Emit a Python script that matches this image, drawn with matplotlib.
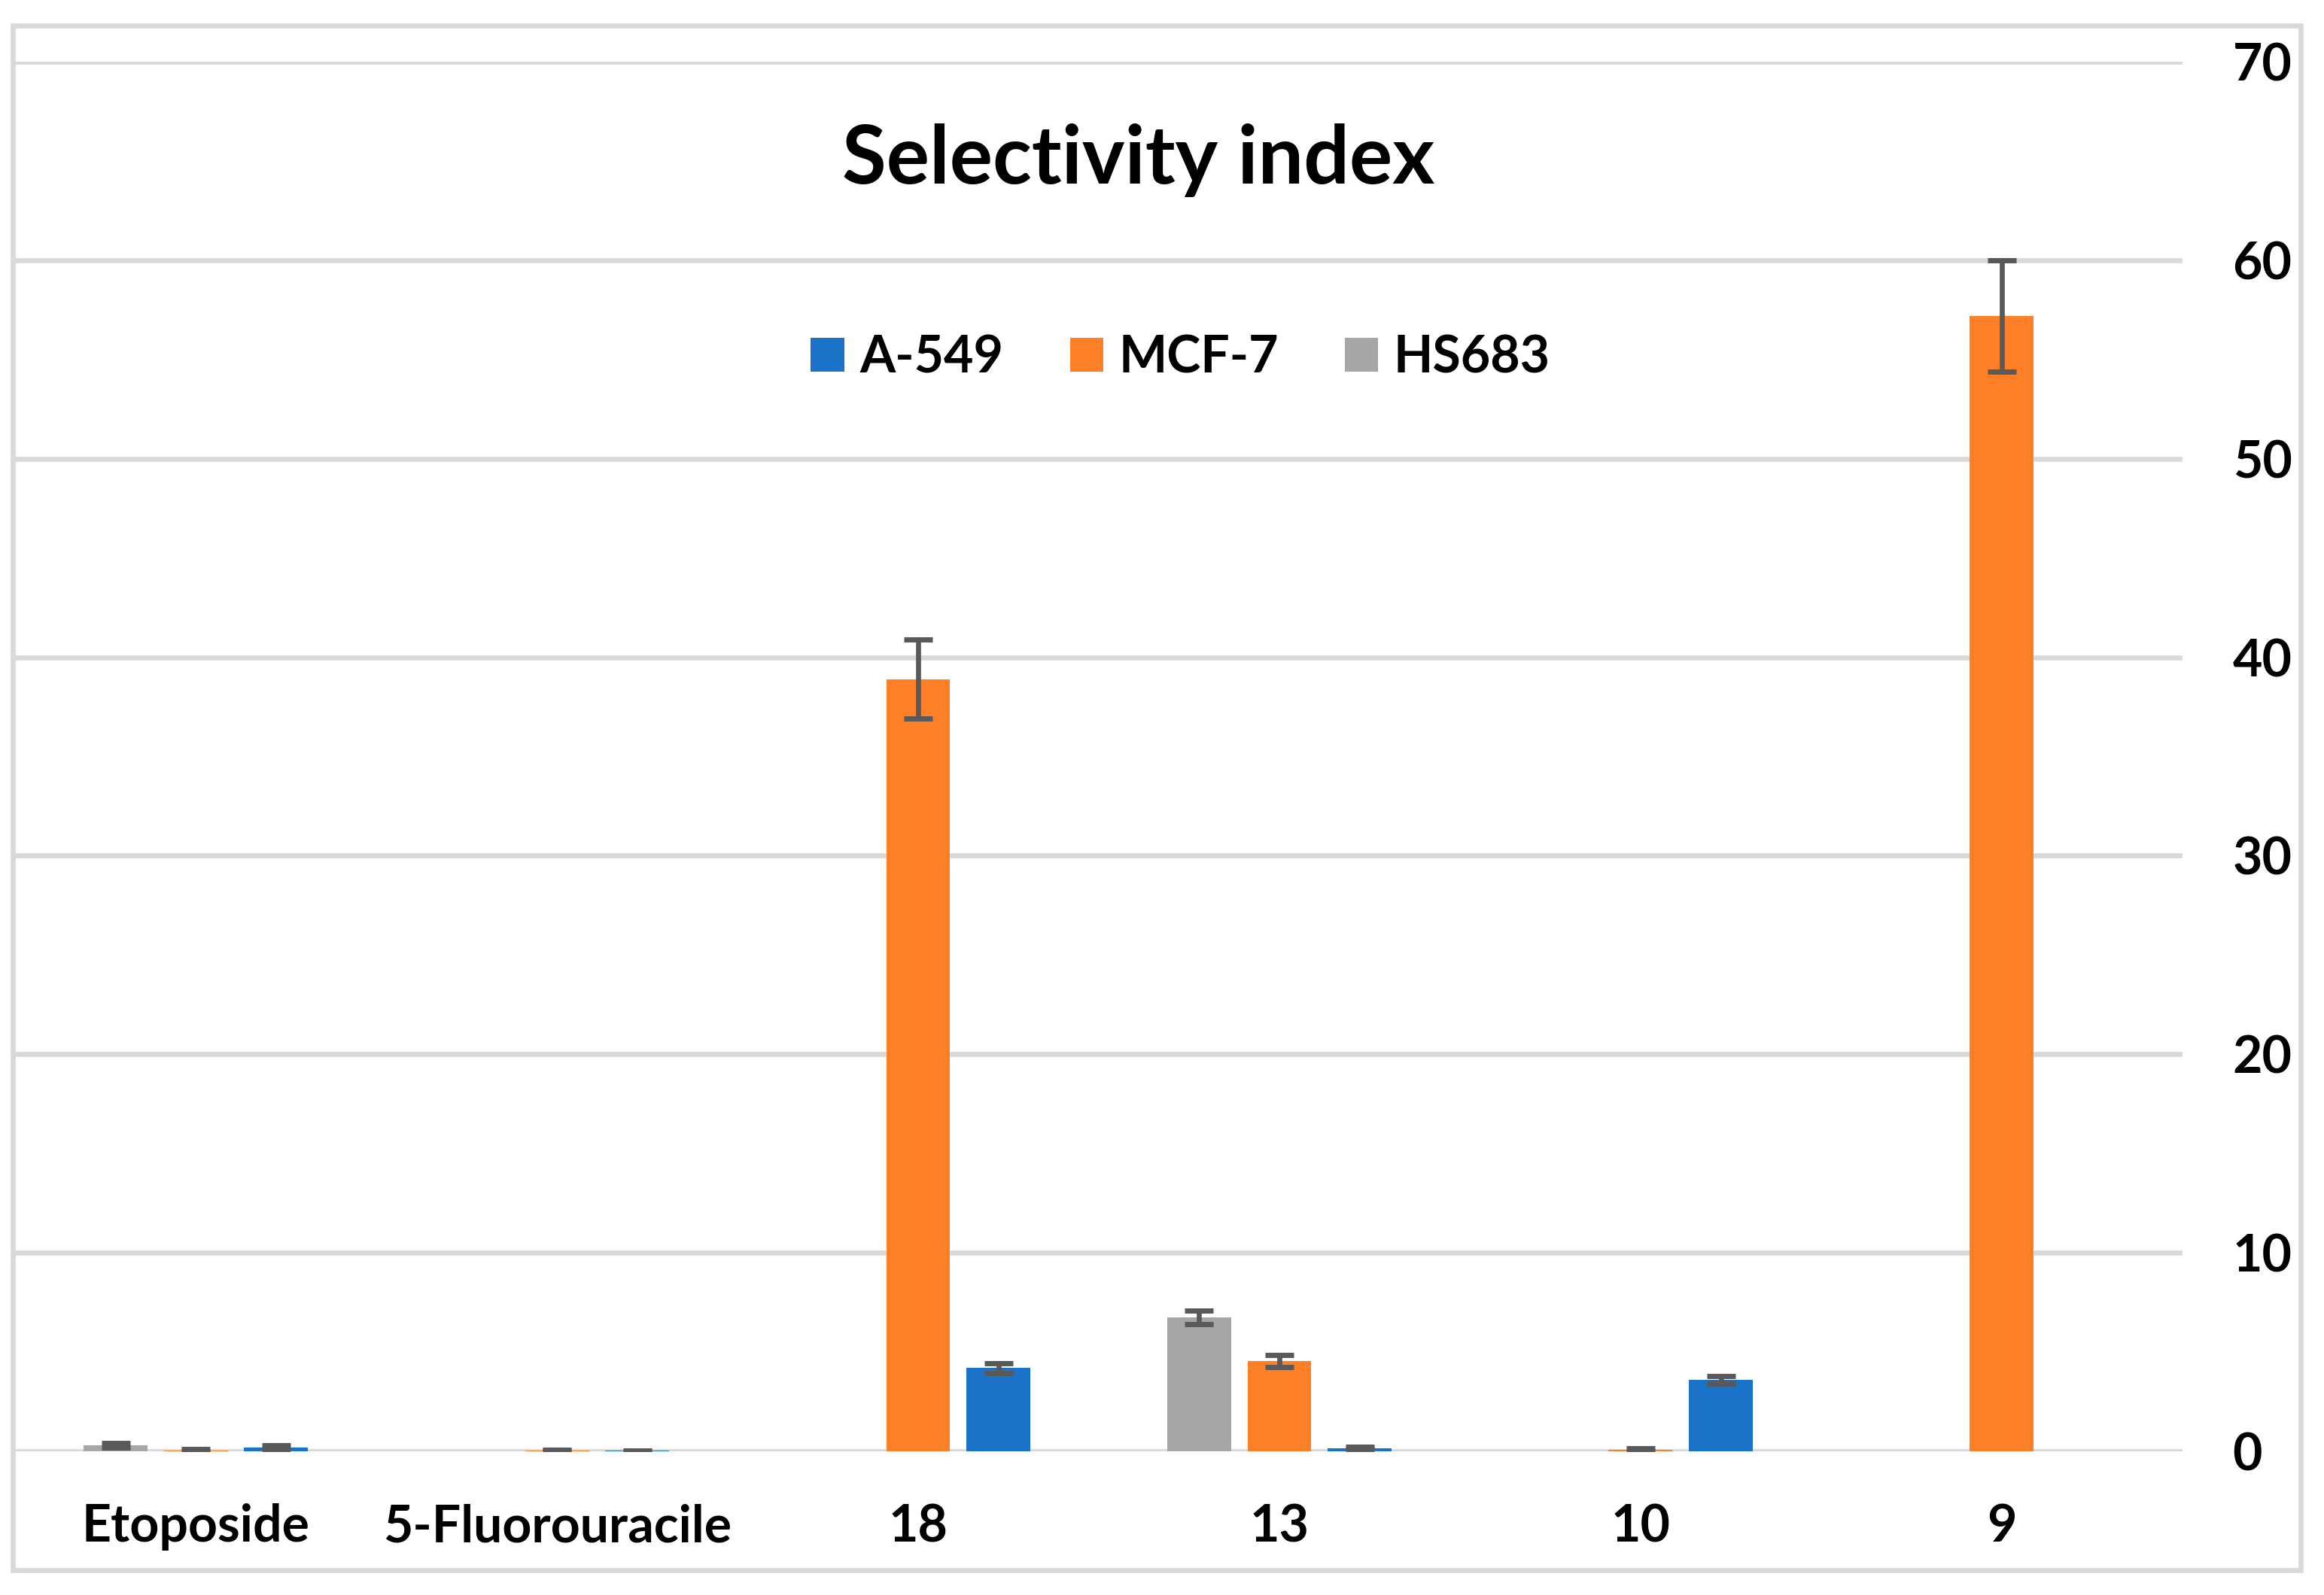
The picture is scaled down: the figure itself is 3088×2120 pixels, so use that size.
import numpy as np
import matplotlib
matplotlib.use("Agg")
import matplotlib.pyplot as plt
from matplotlib.patches import Rectangle

categories = ["Etoposide", "5-Fluorouracile", "18", "13", "10", "9"]

a549 = [0.2, 0.02, 4.2, 0.17, 3.6, 0]
a549_err = [0.1, 0.02, 0.25, 0.06, 0.2, 0]
mcf7 = [0.05, 0.05, 38.9, 4.55, 0.08, 57.2]
mcf7_err = [0.05, 0.03, 2.0, 0.3, 0.08, 2.8]
hs683 = [0.3, 0, 0, 6.75, 0, 0]
hs683_err = [0.1, 0, 0, 0.35, 0, 0]

yticks = [0, 10, 20, 30, 40, 50, 60, 70]

plt.rcParams['font.family'] = ['Lato', 'DejaVu Sans']
plt.rcParams['font.weight'] = 'bold'

grid_col = "#D9D9D9"
err_col = "#595959"
c_blue = "#1A73C8"
c_orange = "#FF7F27"
c_gray = "#A6A6A6"

fig = plt.figure(figsize=(15.44, 10.6), dpi=200)
ax = fig.add_axes([0.0065, 0.0901, 0.9326, 0.8712])

x = np.arange(len(categories))
w = 0.177
off = 0.222

def errs(e):
    return [v if v > 0 else np.nan for v in e]

ekw = dict(ecolor=err_col, elinewidth=2.4, capsize=6.9, capthick=2.5)
ax.bar(x - off, hs683, w, color=c_gray, label="HS683", yerr=errs(hs683_err), error_kw=ekw, zorder=3)
ax.bar(x, mcf7, w, color=c_orange, label="MCF-7", yerr=errs(mcf7_err), error_kw=ekw, zorder=3)
ax.bar(x + off, a549, w, color=c_blue, label="A-549", yerr=errs(a549_err), error_kw=ekw, zorder=3)

ax.set_xlim(-0.5, 5.5)
ax.set_ylim(0, 70)
ax.set_yticks(yticks)
ax.yaxis.tick_right()
ax.yaxis.grid(True, color=grid_col, linewidth=2.4, zorder=0)
ax.set_axisbelow(True)
for s in ax.spines.values():
    s.set_visible(False)
ax.tick_params(axis='y', length=0, pad=24, labelsize=24.5)
ax.tick_params(axis='x', length=0, pad=25, labelsize=24.5)
ax.set_xticks(x)
ax.set_xticklabels(categories, fontweight='bold')
for t in ax.get_yticklabels():
    t.set_fontweight('bold')

handles, labels = ax.get_legend_handles_labels()
order = [2, 1, 0]
fig.legend([handles[i] for i in order], [labels[i] for i in order],
           loc='center', bbox_to_anchor=(0.508, 0.7755), ncol=3, frameon=False,
           handlelength=0.65, handleheight=0.65, handletextpad=0.3,
           columnspacing=1.3, borderpad=0, prop={'weight': 'bold', 'size': 24.5})

fig.text(0.4897, 0.885, "Selectivity index", ha='center', va='baseline',
         fontsize=38.6, fontweight='bold')

fig.patches.append(Rectangle((0.0055, 0.0156), 0.9845, 0.9684, transform=fig.transFigure,
                             fill=False, edgecolor=grid_col, linewidth=2.4))

fig.savefig("out.png", dpi=200, facecolor="white")
